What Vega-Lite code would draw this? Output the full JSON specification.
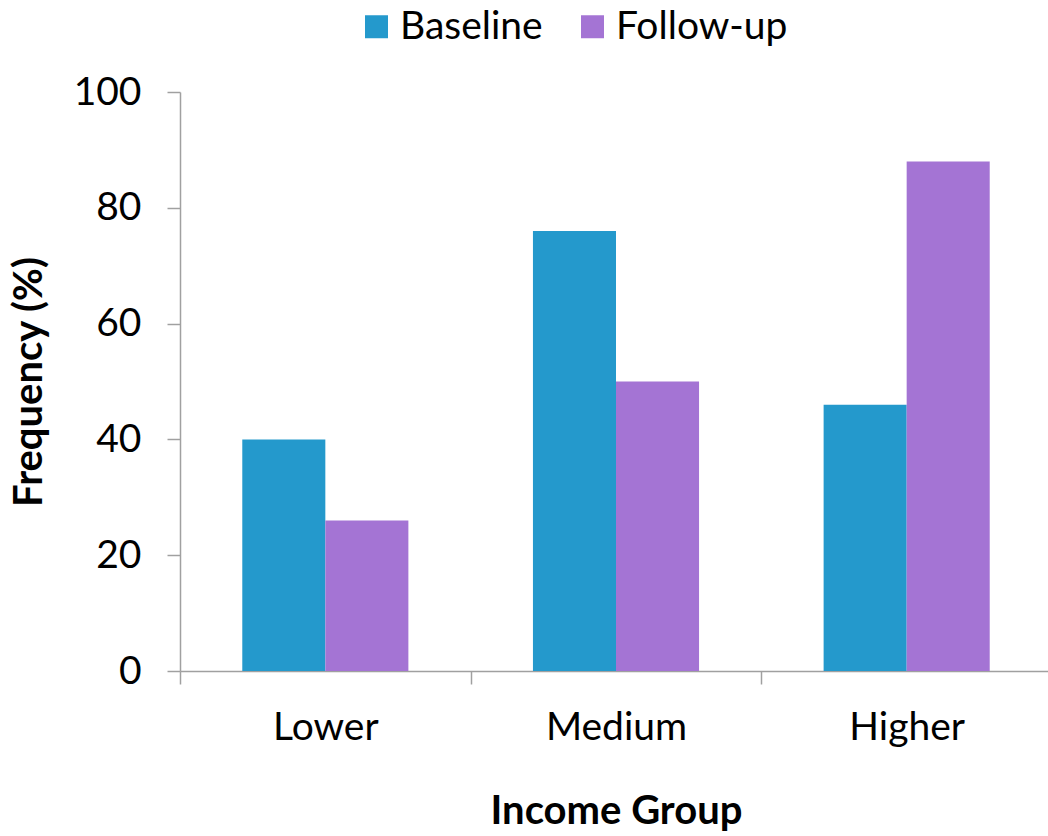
{
  "$schema": "https://vega.github.io/schema/vega-lite/v6.json",
  "autosize": "none",
  "width": 872,
  "height": 579,
  "padding": {"left": 180, "top": 92, "right": 0, "bottom": 165},
  "background": "white",
  "data": {"values": [
    {"group": "Lower", "period": "Baseline", "value": 40},
    {"group": "Lower", "period": "Follow-up", "value": 26},
    {"group": "Medium", "period": "Baseline", "value": 76},
    {"group": "Medium", "period": "Follow-up", "value": 50},
    {"group": "Higher", "period": "Baseline", "value": 46},
    {"group": "Higher", "period": "Follow-up", "value": 88}
  ]},
  "mark": {"type": "bar"},
  "encoding": {
    "x": {
      "field": "group", "type": "nominal", "sort": ["Lower", "Medium", "Higher"],
      "scale": {"paddingInner": 0, "paddingOuter": 0},
      "axis": {"title": "Income Group", "labelAngle": 0, "tickBand": "extent", "labelPadding": 24, "titlePadding": 44}
    },
    "xOffset": {"field": "period", "type": "nominal", "scale": {"paddingInner": 0, "paddingOuter": 0.75}},
    "y": {
      "field": "value", "type": "quantitative",
      "scale": {"domain": [0, 100], "nice": false},
      "axis": {"title": "Frequency (%)", "values": [0, 20, 40, 60, 80, 100], "grid": false, "labelPadding": 26, "titlePadding": 24}
    },
    "color": {
      "field": "period", "type": "nominal",
      "scale": {"domain": ["Baseline", "Follow-up"], "range": ["#2499cc", "#a474d4"]},
      "legend": {"title": null, "orient": "none", "legendX": 177, "legendY": -85, "direction": "horizontal", "symbolType": "square", "symbolSize": 529, "labelFontSize": 39, "labelFont": "Lato", "labelColor": "black", "labelLimit": 400, "columnPadding": 30, "labelOffset": 4, "symbolStrokeWidth": 0}
    }
  },
  "config": {
    "view": {"stroke": null},
    "axis": {
      "labelFont": "Lato", "titleFont": "Lato",
      "labelFontSize": 39, "titleFontSize": 40, "titleFontWeight": "bold",
      "labelColor": "black", "titleColor": "black",
      "domainColor": "#a0a0a0", "domainWidth": 1.5,
      "tickColor": "#a0a0a0", "tickWidth": 1.5, "tickSize": 13
    }
  }
}
